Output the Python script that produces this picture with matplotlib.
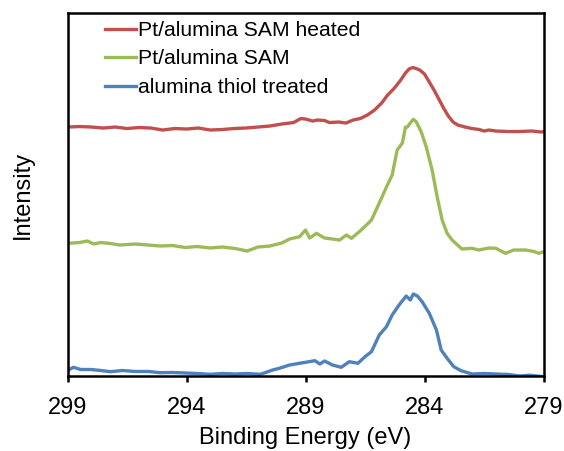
import matplotlib
matplotlib.use('Agg')
import matplotlib.pyplot as plt

plt.rcParams['font.family'] = ['Liberation Sans', 'DejaVu Sans']

# binding energy (eV) and intensity (a.u., stacked with offsets)
heated_E = [299.0, 298.5, 298.0, 297.5, 297.0, 296.5, 296.0, 295.5, 295.0, 294.5,
            294.0, 293.5, 293.0, 292.5, 292.0, 291.5, 291.0, 290.5, 290.0, 289.5,
            289.2, 289.0, 288.7, 288.5, 288.2, 288.0, 287.6, 287.3, 287.0, 286.7,
            286.4, 286.1, 285.8, 285.55, 285.3, 285.13, 285.0, 284.8, 284.65, 284.5,
            284.35, 284.2, 284.0, 283.8, 283.6, 283.4, 283.2, 283.0, 282.8, 282.6,
            282.3, 282.0, 281.7, 281.5, 281.3, 281.0, 280.5, 280.0, 279.5, 279.1, 279.0]
heated_I = [249, 249.5, 249, 248, 249, 247.5, 248.5, 248, 246, 247.5,
            247, 248, 246, 246.5, 247.5, 248, 249, 250, 252, 253.5,
            257.5, 257, 255, 256, 255.5, 253.5, 254, 253, 256, 257.5,
            261, 266, 273, 281, 287, 292, 296, 303, 307, 308.5,
            307.5, 306, 302, 294, 286, 277, 268, 260, 254, 251,
            249, 247.5, 246.5, 245, 246, 245, 244.5, 244.5, 245, 244, 244.5]

sam_E = [298.96, 298.5, 298.16, 297.9, 297.6, 297.2, 296.8, 296.15, 295.6, 295.1,
         294.6, 294.05, 293.55, 293.0, 292.5, 291.95, 291.45, 291.0, 290.5, 290.0,
         289.67, 289.25, 289.0, 288.83, 288.54, 288.2, 287.87, 287.57, 287.28, 287.07,
         286.74, 286.44, 286.23, 285.9, 285.6, 285.36, 285.15, 284.93, 284.8, 284.72,
         284.6, 284.47, 284.35, 284.14, 283.93, 283.68, 283.47, 283.26, 283.05, 282.84,
         282.43, 282.0, 281.72, 281.3, 281.0, 280.6, 280.25, 279.75, 279.4, 279.2, 279.0]
sam_I = [132.7, 133.5, 135, 132, 133.5, 132.5, 131, 132, 131, 130,
         130.5, 128.5, 129.5, 128, 129, 127.5, 125, 129, 130, 133,
         137, 139.3, 146, 138, 142.7, 138, 137, 136, 141, 137.7,
         144.3, 151, 156, 173, 189, 201, 226, 233, 249, 249,
         253, 256.7, 254.3, 244.3, 229.3, 206, 179.3, 156, 142.7, 136,
         127, 127.7, 126, 128, 127.7, 122.7, 126, 126, 124.5, 122.7, 124.3]

thiol_E = [298.96, 298.75, 298.45, 298.03, 297.6, 297.2, 296.7, 296.15, 295.6, 295.1,
           294.6, 294.05, 293.55, 293.0, 292.5, 291.95, 291.45, 290.9, 290.38, 290.1,
           289.67, 289.25, 288.6, 288.4, 288.2, 287.87, 287.5, 287.16, 286.8, 286.5,
           286.23, 285.9, 285.6, 285.36, 285.07, 284.77, 284.6, 284.47, 284.3, 284.1,
           283.8, 283.5, 283.3, 283.05, 282.77, 282.47, 282.0, 281.5, 281.0, 280.46,
           280.0, 279.6, 279.0]
thiol_I = [6, 8.7, 6.5, 6.5, 5.5, 4.3, 5.5, 4.5, 4.5, 3.3,
           3.5, 3, 2.5, 1.7, 2.5, 2, 2.5, 1.7, 6, 7.7,
           11, 12.7, 15.3, 12, 15, 11, 8.7, 14.3, 12.7, 19.3,
           24.3, 41, 49.3, 61, 71, 80, 76, 82, 80, 74.3,
           62.7, 46, 26, 17.7, 9.3, 5.3, 2, 2.5, 2, 1.5,
           0, 0.8, -0.7]

fig = plt.figure(figsize=(5.64, 4.51), dpi=100)
ax = fig.add_axes([0.1197, 0.1652, 0.844, 0.807])

ax.plot(heated_E, heated_I, color='#C0504D', lw=2.4, label='Pt/alumina SAM heated')
ax.plot(sam_E, sam_I, color='#9BBB59', lw=2.4, label='Pt/alumina SAM')
ax.plot(thiol_E, thiol_I, color='#4F81BD', lw=2.4, label='alumina thiol treated')

ax.set_xlim(299, 279)
ax.set_ylim(-0.5, 363.5)
ax.set_xticks([299, 294, 289, 284, 279])
ax.set_yticks([])
ax.tick_params(axis='x', direction='out', length=4.5, width=1.8, labelsize=17, pad=10)
for s in ax.spines.values():
    s.set_linewidth(1.8)

ax.set_xlabel('Binding Energy (eV)', fontsize=17, labelpad=6)
ax.set_ylabel('Intensity', fontsize=17, labelpad=24)

ax.legend(loc='upper left', bbox_to_anchor=(0.06, 1.0), frameon=False, fontsize=15.2,
          handlelength=1.5, handletextpad=0.1, labelspacing=0.45, borderaxespad=0)

fig.savefig('out.png', dpi=100)
